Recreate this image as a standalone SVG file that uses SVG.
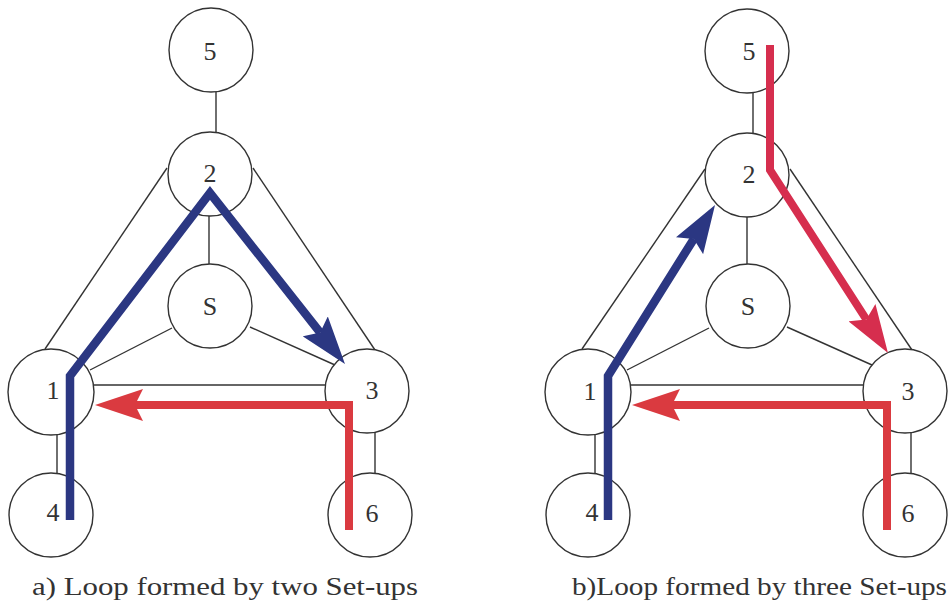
<svg xmlns="http://www.w3.org/2000/svg" width="948" height="609" viewBox="0 0 948 609">
<style>
  .node circle { fill: #ffffff; stroke: #333333; stroke-width: 1.4; }
  .node text { font-family: "Liberation Serif", "Times New Roman", serif; font-size: 26px; fill: #333333; text-anchor: middle; }
  .edge { stroke: #333333; stroke-width: 1.4; fill: none; }
  .blue { stroke: #2b3782; stroke-width: 8.5; fill: none; stroke-linejoin: miter; stroke-linecap: butt; }
  .red { stroke: #da3a40; stroke-width: 8; fill: none; stroke-linejoin: miter; stroke-linecap: butt; }
  .crimson { stroke: #d62e4e; stroke-width: 8; fill: none; stroke-linejoin: miter; stroke-linecap: butt; }
  .caption { font-family: "Liberation Serif", "Times New Roman", serif; font-size: 26px; fill: #333333; }
</style>
<defs>
  <marker id="arrowBlue" viewBox="0 0 48 32" refX="8" refY="16" markerWidth="48" markerHeight="32" markerUnits="userSpaceOnUse" orient="auto">
    <path d="M0,0 L48,16 L0,32 L8,16 Z" fill="#2b3782"/>
  </marker>
  <marker id="arrowRed" viewBox="0 0 48 32" refX="8" refY="16" markerWidth="48" markerHeight="32" markerUnits="userSpaceOnUse" orient="auto">
    <path d="M0,0 L48,16 L0,32 L8,16 Z" fill="#da3a40"/>
  </marker>
  <marker id="arrowCrimson" viewBox="0 0 48 32" refX="8" refY="16" markerWidth="48" markerHeight="32" markerUnits="userSpaceOnUse" orient="auto">
    <path d="M0,0 L48,16 L0,32 L8,16 Z" fill="#d62e4e"/>
  </marker>
</defs>
<rect width="948" height="609" fill="#ffffff"/>

<g id="connectors">
  <!-- diagram a -->
  <line class="edge" x1="216" y1="92" x2="216" y2="132"/>
  <line class="edge" x1="209" y1="216" x2="209" y2="264"/>
  <line class="edge" x1="167" y1="168" x2="45" y2="349"/>
  <line class="edge" x1="253" y1="168" x2="375" y2="350"/>
  <line class="edge" x1="172" y1="328" x2="90" y2="370"/>
  <line class="edge" x1="250" y1="327" x2="335" y2="365"/>
  <line class="edge" x1="94" y1="385" x2="326" y2="385"/>
  <line class="edge" x1="57" y1="434" x2="57" y2="474"/>
  <line class="edge" x1="375" y1="432" x2="375" y2="474"/>
  <!-- diagram b -->
  <line class="edge" x1="753" y1="93" x2="753" y2="133"/>
  <line class="edge" x1="747" y1="217" x2="747" y2="264"/>
  <line class="edge" x1="705" y1="169" x2="582" y2="349"/>
  <line class="edge" x1="790" y1="169" x2="912" y2="350"/>
  <line class="edge" x1="709" y1="328" x2="627" y2="370"/>
  <line class="edge" x1="787" y1="327" x2="872" y2="365"/>
  <line class="edge" x1="631" y1="385" x2="863" y2="385"/>
  <line class="edge" x1="595" y1="434" x2="595" y2="474"/>
  <line class="edge" x1="911" y1="432" x2="911" y2="474"/>
</g>

<g id="a-node-5" class="node"><circle cx="211" cy="50" r="42"/><text x="210" y="60">5</text></g>
<g id="a-node-2" class="node"><circle cx="210" cy="174" r="42"/><text x="210" y="182">2</text></g>
<g id="a-node-S" class="node"><circle cx="210" cy="306" r="42"/><text x="210" y="315">S</text></g>
<g id="a-node-1" class="node"><circle cx="51" cy="392" r="43"/><text x="53" y="399">1</text></g>
<g id="a-node-3" class="node"><circle cx="367" cy="391" r="42"/><text x="372" y="399">3</text></g>
<g id="a-node-4" class="node"><circle cx="51" cy="515" r="42"/><text x="53" y="521">4</text></g>
<g id="a-node-6" class="node"><circle cx="370" cy="515" r="42"/><text x="372" y="522">6</text></g>

<g id="b-node-5" class="node"><circle cx="747" cy="51" r="42"/><text x="749" y="60">5</text></g>
<g id="b-node-2" class="node"><circle cx="747" cy="175" r="42"/><text x="749" y="183">2</text></g>
<g id="b-node-S" class="node"><circle cx="748" cy="306" r="42"/><text x="748" y="315">S</text></g>
<g id="b-node-1" class="node"><circle cx="588" cy="392" r="43"/><text x="590" y="400">1</text></g>
<g id="b-node-3" class="node"><circle cx="905" cy="391" r="42"/><text x="908" y="400">3</text></g>
<g id="b-node-4" class="node"><circle cx="588" cy="515" r="42"/><text x="592" y="521">4</text></g>
<g id="b-node-6" class="node"><circle cx="905" cy="515" r="42"/><text x="908" y="522">6</text></g>

<g id="setup-paths">
  <path class="blue" d="M70,520 L70,376 L210,193 L320.2,332.6" marker-end="url(#arrowBlue)"/>
  <path class="red" d="M349,530 L349,405 L135,405" marker-end="url(#arrowRed)"/>
  <path class="blue" d="M608,520 L608,376 L693.8,238.9" marker-end="url(#arrowBlue)"/>
  <path class="crimson" d="M770,45 L770,170 L866.3,319.4" marker-end="url(#arrowCrimson)"/>
  <path class="red" d="M887,530 L887,405 L672,405" marker-end="url(#arrowRed)"/>
</g>

<text class="caption" x="32" y="595" textLength="386" lengthAdjust="spacingAndGlyphs">a) Loop formed by two Set-ups</text>
<text class="caption" x="572" y="595" textLength="375" lengthAdjust="spacingAndGlyphs">b)Loop formed by three Set-ups</text>
</svg>
